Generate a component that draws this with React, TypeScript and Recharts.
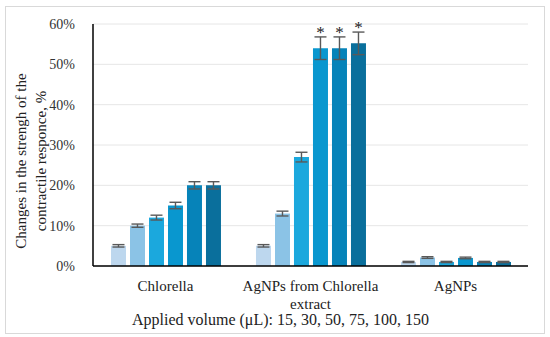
import { BarChart, Bar, XAxis, YAxis, CartesianGrid, ErrorBar, LabelList } from 'recharts';

const categories = ['Chlorella', 'AgNPs from Chlorella extract', 'AgNPs'];
const volumes = ['15', '30', '50', '75', '100', '150'];

const v15 = [5, 5, 1];
const v30 = [10, 13, 2.1];
const v50 = [12, 27, 1];
const v75 = [15, 54, 2];
const v100 = [20, 54, 1];
const v150 = [20, 55.2, 1];

const e15 = [0.3, 0.3, 0.15];
const e30 = [0.4, 0.6, 0.2];
const e50 = [0.6, 1.2, 0.15];
const e75 = [0.8, 2.8, 0.2];
const e100 = [0.9, 2.8, 0.15];
const e150 = [0.9, 2.8, 0.15];

// which bars carry a "*"
const s75 = [false, true, false];
const s100 = [false, true, false];
const s150 = [false, true, false];

const yTicks = [0, 10, 20, 30, 40, 50, 60];
const colors = ['#bdd7ee', '#8bc3e6', '#1ba8dd', '#0997cf', '#0683b9', '#0a6f9c'];

const values = [v15, v30, v50, v75, v100, v150];
const errors = [e15, e30, e50, e75, e100, e150];
const stars = [null, null, null, s75, s100, s150];

const data = categories.map((name, i) => {
  const row: Record<string, string | number | boolean> = { name };
  volumes.forEach((v, j) => {
    row['v' + v] = values[j][i];
    row['e' + v] = errors[j][i];
  });
  return row;
});

const FONT = '"Liberation Serif", serif';

function CategoryTick({ x, y, payload }: any) {
  const words = String(payload.value).split(' ');
  const lines = words.length > 3 ? [words.slice(0, -1).join(' '), words[words.length - 1]] : [payload.value];
  return (
    <text x={x} y={y} textAnchor="middle" fontFamily={FONT} fontSize={15} fill="#222">
      {lines.map((l, i) => (
        <tspan key={i} x={x} dy={i === 0 ? 17 : 18}>{l}</tspan>
      ))}
    </text>
  );
}

function YTitle({ viewBox }: any) {
  const cy = viewBox.y + viewBox.height / 2 + 16;
  return (
    <text transform={`translate(0, ${cy}) rotate(-90)`} textAnchor="middle" fontFamily={FONT} fontSize={15} fill="#222">
      <tspan x={0} y={26}>Changes in the strengh of the</tspan>
      <tspan x={0} y={46}>contractile responce, %</tspan>
    </text>
  );
}

function makeStar(flags: boolean[] | null, errKey: string) {
  return (props: any) => {
    const { x, y, width, height, value, index } = props;
    if (!flags || !flags[index] || !value) return null;
    const err = Number(data[index][errKey]);
    const errPx = (err * height) / value;
    return (
      <text x={x + width / 2} y={y - errPx + 1} textAnchor="middle" fontFamily={FONT} fontSize={17} fill="#222">
        *
      </text>
    );
  };
}

export default function App() {
  return (
    <div style={{ position: 'fixed', left: 0, top: 0, width: 550, height: 337, background: '#fff' }}>
      <div style={{ position: 'absolute', left: 5, top: 6, width: 538, height: 326, border: '1px solid #d9d9d9' }} />
      <BarChart
        width={550}
        height={337}
        data={data}
        margin={{ top: 24, right: 22, bottom: 0, left: 0 }}
        barCategoryGap="12.4%"
        barGap={4}
        style={{ position: 'absolute', left: 0, top: 0 }}
      >
        <CartesianGrid vertical={false} stroke="#e6e6e6" />
        <XAxis
          dataKey="name"
          height={71}
          axisLine={{ stroke: '#000', strokeWidth: 1.5 }}
          tickLine={false}
          tick={<CategoryTick />}
          interval={0}
          label={{ value: 'Applied volume (μL): 15, 30, 50, 75, 100, 150', position: 'insideBottom', offset: 12, dx: -30, fontFamily: FONT, fontSize: 16, fill: '#222' }}
        />
        <YAxis
          width={93}
          domain={[0, 60]}
          ticks={yTicks}
          tickFormatter={(v) => `${v}%`}
          axisLine={{ stroke: '#000', strokeWidth: 1.5 }}
          tickLine={false}
          tickMargin={12}
          tick={{ fontFamily: FONT, fontSize: 14, fill: '#333' }}
          label={<YTitle />}
        />
        {volumes.map((v, j) => (
          <Bar key={v} dataKey={'v' + v} fill={colors[j]} isAnimationActive={false}>
            <ErrorBar dataKey={'e' + v} width={6} stroke="#595959" strokeWidth={1.4} isAnimationActive={false} />
            {stars[j] && <LabelList dataKey={'v' + v} content={makeStar(stars[j], 'e' + v)} />}
          </Bar>
        ))}
      </BarChart>
    </div>
  );
}
